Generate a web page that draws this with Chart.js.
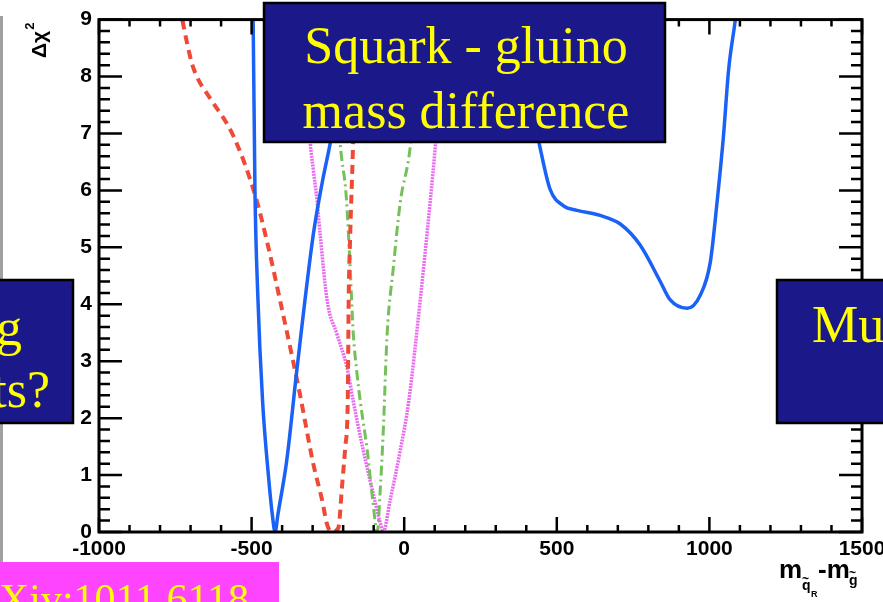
<!DOCTYPE html>
<html>
<head>
<meta charset="utf-8">
<script src="https://cdn.jsdelivr.net/npm/chart.js@4.4.1/dist/chart.umd.min.js"></script>
<style>
  html, body { margin: 0; padding: 0; background: #fff; }
  canvas { display: block; }
</style>
</head>
<body>
<canvas id="chi2-chart" width="883" height="602"></canvas>
<script>
// Axis ticks
const xTicks = [-1000, -500, 0, 500, 1000, 1500];
const yTicks = [0, 1, 2, 3, 4, 5, 6, 7, 8, 9];
const xMinorStep = 100;
const yMinorStep = 0.2;

// Blue solid curve
const blueX = [-498, -495, -489, -480, -464, -445, -432, -423, -414, -385, -351, -298, -270, -242, -190, -120, 300, 380, 446, 478, 522, 566, 642, 708, 773, 839, 871, 927, 970, 1003, 1025, 1046, 1063, 1085, 1100];
const blueY = [9.6, 9.0, 6.0, 4.2, 2.3, 1.0, 0.3, 0.0, 0.3, 1.25, 2.88, 5.22, 6.1, 6.84, 8.4, 9.8, 9.8, 8.5, 6.73, 6.02, 5.73, 5.65, 5.56, 5.41, 5.04, 4.40, 4.08, 3.93, 4.16, 4.74, 5.79, 6.95, 8.12, 9.0, 9.7];

// Red dashed curve
const redX = [-745, -727, -710, -695, -675, -650, -626, -560, -488, -449, -406, -364, -341, -298, -269, -252, -236, -216, -203, -193, -185, -182, -177, -167, -158];
const redY = [9.5, 9.0, 8.55, 8.22, 7.95, 7.73, 7.54, 6.96, 5.91, 5.09, 4.05, 3.0, 2.4, 1.2, 0.56, 0.12, 0.0, 0.07, 0.85, 1.5, 2.3, 4.05, 5.2, 6.96, 9.5];

// Green dash-dot curve
const greenX = [-240, -210, -190, -178, -167, -155, -144, -121, -104, -88, -80, -69, -56, -36, -13, 20, 60];
const greenY = [9.5, 6.84, 5.9, 4.75, 3.5, 2.8, 2.3, 1.43, 0.6, 0.0, 0.6, 1.72, 3.47, 4.62, 5.79, 6.78, 9.5];

// Magenta dotted curve
const magentaX = [-340, -308, -298, -285, -275, -252, -220, -187, -167, -134, -102, -79, -69, -46, -13, 15, 52, 85, 102, 140];
const magentaY = [9.5, 6.84, 6.37, 5.79, 5.2, 4.05, 3.47, 2.88, 2.3, 1.43, 0.68, 0.17, 0.0, 0.56, 1.43, 2.3, 4.05, 5.79, 6.78, 9.5];

const makePoints = (xs, ys) => xs.map((x, i) => ({ x: x, y: ys[i] }));

const labelFont = { family: "'Liberation Sans', Arial, sans-serif", size: 21, weight: 'bold' };
const BOX_BLUE = '#1b188a';
const YELLOW = '#ffff00';

function drawBox(ctx, x, y, w, h, fill) {
    ctx.fillStyle = fill;
    ctx.fillRect(x, y, w, h);
    ctx.lineWidth = 2.5;
    ctx.strokeStyle = '#000';
    ctx.strokeRect(x, y, w, h);
}

const framePlugin = {
    id: 'frame',
    beforeDraw(chart) {
        const ctx = chart.ctx;
        ctx.save();
        ctx.fillStyle = '#fff';
        ctx.fillRect(0, 0, chart.width, chart.height);
        // grey edge of neighbouring slide element
        ctx.fillStyle = '#a0a0a0';
        ctx.fillRect(0, 16, 3, 546);
        ctx.restore();
    },
    afterDraw(chart) {
        const ctx = chart.ctx;
        const a = chart.chartArea;
        const xs = chart.scales.x;
        const ys = chart.scales.y;
        ctx.save();

        // inward ticks on all four sides
        ctx.strokeStyle = '#000';
        ctx.lineWidth = 2.5;
        ctx.beginPath();
        for (let v = xs.min; v <= xs.max + 1e-6; v += xMinorStep) {
            const px = xs.getPixelForValue(v);
            const len = Math.abs(v % 500) < 1e-6 ? 15 : 7;
            ctx.moveTo(px, a.bottom); ctx.lineTo(px, a.bottom - len);
            ctx.moveTo(px, a.top); ctx.lineTo(px, a.top + len);
        }
        const nMinor = Math.round((ys.max - ys.min) / yMinorStep);
        for (let i = 0; i <= nMinor; i++) {
            const py = ys.getPixelForValue(ys.min + i * yMinorStep);
            const len = i % 5 === 0 ? 23 : 11;
            ctx.moveTo(a.left, py); ctx.lineTo(a.left + len, py);
            ctx.moveTo(a.right, py); ctx.lineTo(a.right - len, py);
        }
        ctx.stroke();
        ctx.lineWidth = 3;
        ctx.strokeRect(a.left, a.top, a.right - a.left, a.bottom - a.top);

        // y title  Δχ²
        ctx.fillStyle = '#000';
        ctx.save();
        ctx.translate(46, 58);
        ctx.rotate(-Math.PI / 2);
        ctx.font = "bold 21px 'Liberation Sans', Arial, sans-serif";
        ctx.textAlign = 'left';
        ctx.textBaseline = 'alphabetic';
        ctx.fillText('Δχ', 0, 0);
        const w = ctx.measureText('Δχ').width;
        ctx.font = "bold 13px 'Liberation Sans', Arial, sans-serif";
        ctx.fillText('2', w + 1, -12);
        ctx.restore();

        // x title  m(q~R) - m(g~)
        ctx.textAlign = 'left';
        ctx.textBaseline = 'alphabetic';
        ctx.font = "bold 26px 'Liberation Sans', Arial, sans-serif";
        ctx.fillText('m', 779, 578);
        ctx.fillText('-m', 818, 578);
        ctx.font = "bold 14px 'Liberation Sans', Arial, sans-serif";
        ctx.fillText('q', 802, 590);
        ctx.fillText('g', 849, 585);
        ctx.font = "bold 12px 'Liberation Sans', Arial, sans-serif";
        ctx.fillText('~', 802, 583);
        ctx.fillText('~', 849, 577);
        ctx.font = "bold 9px 'Liberation Sans', Arial, sans-serif";
        ctx.fillText('R', 811, 597);

        // slide text boxes on top
        const serif = "'Liberation Serif', 'Times New Roman', serif";
        drawBox(ctx, 264, 3, 401, 139, BOX_BLUE);
        ctx.fillStyle = YELLOW;
        ctx.font = '52px ' + serif;
        ctx.textAlign = 'center';
        ctx.fillText('Squark - gluino', 466, 63);
        ctx.fillText('mass difference', 466, 128);

        drawBox(ctx, -5, 280, 78, 143, BOX_BLUE);
        ctx.fillStyle = YELLOW;
        ctx.textAlign = 'right';
        ctx.fillText('g', 22, 345);
        ctx.fillText('ts?', 50, 407);

        drawBox(ctx, 777, 280, 120, 143, BOX_BLUE);
        ctx.fillStyle = YELLOW;
        ctx.textAlign = 'left';
        ctx.fillText('Mu', 812, 342);

        ctx.fillStyle = '#ff44ff';
        ctx.fillRect(0, 562, 279, 45);
        ctx.fillStyle = YELLOW;
        ctx.font = '42px ' + serif;
        ctx.textAlign = 'right';
        ctx.fillText('arXiv:1011.6118', 249, 613);

        ctx.restore();
    }
};

const ctx = document.getElementById('chi2-chart').getContext('2d');
const chi2Chart = new Chart(ctx, {
    type: 'line',
    data: {
        datasets: [
            {
                label: 'blue',
                data: makePoints(blueX, blueY),
                borderColor: '#1a62f5',
                borderWidth: 3.5,
                cubicInterpolationMode: 'monotone'
            },
            {
                label: 'red',
                data: makePoints(redX, redY),
                borderColor: '#ef4a36',
                borderWidth: 4,
                borderDash: [9, 6],
                cubicInterpolationMode: 'monotone'
            },
            {
                label: 'green',
                data: makePoints(greenX, greenY),
                borderColor: '#74c05a',
                borderWidth: 3,
                borderDash: [10, 4, 2, 4],
                cubicInterpolationMode: 'monotone'
            },
            {
                label: 'magenta',
                data: makePoints(magentaX, magentaY),
                borderColor: '#e96af0',
                borderWidth: 3.5,
                borderDash: [2, 1],
                cubicInterpolationMode: 'monotone'
            }
        ]
    },
    options: {
        responsive: false,
        animation: false,
        devicePixelRatio: 1,
        layout: { padding: { left: 0, right: 21, top: 16, bottom: 0 } },
        elements: { point: { radius: 0 } },
        plugins: {
            legend: { display: false },
            tooltip: { enabled: false }
        },
        scales: {
            x: {
                type: 'linear',
                min: -1000,
                max: 1500,
                grid: { display: false, drawTicks: false },
                border: { display: false },
                ticks: {
                    font: labelFont,
                    color: '#000',
                    padding: 5,
                    maxRotation: 0,
                    autoSkip: false,
                    callback: v => String(v)
                },
                afterBuildTicks: s => { s.ticks = xTicks.map(v => ({ value: v })); },
                afterFit: s => { s.height = 70; s.paddingLeft = 0; s.paddingRight = 0; }
            },
            y: {
                type: 'linear',
                min: 0,
                max: 9,
                grid: { display: false, drawTicks: false },
                border: { display: false },
                ticks: {
                    font: labelFont,
                    color: '#000',
                    padding: 7,
                    autoSkip: false,
                    callback: v => String(v)
                },
                afterBuildTicks: s => { s.ticks = yTicks.map(v => ({ value: v })); },
                afterFit: s => { s.width = 99; }
            }
        }
    },
    plugins: [framePlugin]
});
</script>
</body>
</html>
